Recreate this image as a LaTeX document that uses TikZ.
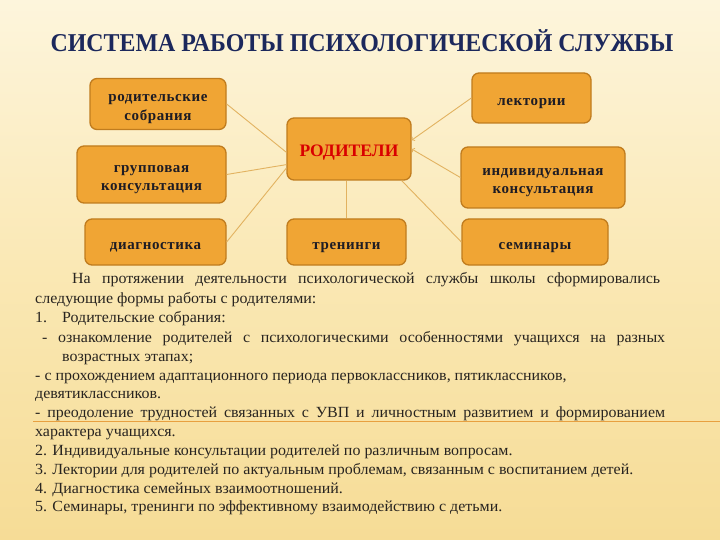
\documentclass[tikz,border=0pt]{standalone}
\usepackage{fontspec}
\setmainfont{Liberation Serif}
\newfontfamily\bodyfont[FakeStretch=1.03]{Liberation Serif}
\newfontfamily\boxfont[LetterSpace=4]{Liberation Serif}
\newfontfamily\titlefont[FakeStretch=0.93]{Liberation Serif}
\usetikzlibrary{shapes,arrows,positioning}
\definecolor{bgtop}{RGB}{253,245,220}
\definecolor{bgmid}{RGB}{250,232,180}
\definecolor{bgbot}{RGB}{246,220,150}
\definecolor{boxfill}{RGB}{240,165,52}
\definecolor{boxline}{RGB}{192,124,30}
\definecolor{boxtext}{RGB}{30,28,36}
\definecolor{titlecol}{RGB}{28,40,92}
\definecolor{linkcol}{RGB}{226,178,96}
\definecolor{bodytext}{RGB}{40,36,32}
\definecolor{rulecol}{RGB}{232,160,64}
% box labels sit a little below the middle of the box
\newcommand{\boxlabel}[1]{\raisebox{-3.5pt}[\height][\depth]{\begin{tabular}{@{}c@{}}#1\end{tabular}}}

\begin{document}
\begin{tikzpicture}[x=1pt, y=-1pt]
			\tikzstyle{Box}		= [rectangle, rounded corners=7pt, draw=boxline, fill=boxfill, line width=1.3pt, align=center, inner sep=0pt, font=\boxfont\bfseries\fontsize{15}{18.5}\selectfont, text=boxtext]
			\tikzstyle{Center}	= [font=\bfseries\fontsize{17.5}{20}\selectfont, text=red!85!black]
			\tikzstyle{Link}	= [linkcol, line width=0.9pt]
			\tikzstyle{Tip}		= [->, >=to]
			\tikzstyle{Line}	= [anchor=base west, inner sep=0pt, font=\bodyfont\fontsize{15.5}{18}\selectfont, text=bodytext]

			\useasboundingbox (0,0) rectangle (720,540);
			\fill [top color=bgtop, bottom color=bgbot, middle color=bgmid] (0,0) rectangle (720,540);

			\node (title) at (362,41) [font=\titlefont\bfseries\fontsize{25.7}{28}\selectfont, text=titlecol] {СИСТЕМА РАБОТЫ ПСИХОЛОГИЧЕСКОЙ СЛУЖБЫ};

			\node (rod) at (349,149) [Box][Center, minimum width=124pt, minimum height=62pt] {\boxlabel{РОДИТЕЛИ}};
			\node (sobr) at (158,104) [Box][minimum width=136pt, minimum height=51pt] {\boxlabel{родительские\\собрания}};
			\node (grup) at (151.5,174.5) [Box][minimum width=149pt, minimum height=57pt] {\boxlabel{групповая\\консультация}};
			\node (diag) at (155.5,242) [Box][minimum width=141pt, minimum height=46pt] {\boxlabel{диагностика}};
			\node (tren) at (346.5,242) [Box][minimum width=119pt, minimum height=46pt] {\boxlabel{тренинги}};
			\node (lekt) at (531.5,98) [Box][minimum width=119pt, minimum height=50pt] {\boxlabel{лектории}};
			\node (indiv) at (543,177.5) [Box][minimum width=164pt, minimum height=61pt] {\boxlabel{индивидуальная\\консультация}};
			\node (semin) at (535,242) [Box][minimum width=146pt, minimum height=46pt] {\boxlabel{семинары}};

			\draw [-] (sobr.east) to (rod.183) [Link];
			\draw [-] (grup.east) to (rod.194) [Link];
			\draw [-] (diag.east) to (rod.197) [Link];
			\draw [-] (tren.north) to (tren.north |- rod.south) [Link];
			\draw (lekt.west) to (rod.8) [Link][Tip];
			\draw (indiv.west) to (rod.0) [Link][Tip];
			\draw [-] (semin.west) to (rod.-31) [Link];

			\coordinate (ruleL) at (33,421);
			\coordinate (ruleR) at (720,421);
			\draw [rulecol, line width=0.8pt] (ruleL) -- (ruleR);

			\node (t1) at (72,283) [Line] {\makebox[588pt][s]{На протяжении деятельности психологической службы школы сформировались}};
			\node (t2) at (35,303) [Line] {следующие формы работы с родителями:};
			\node (t3) at (35,322) [Line] {1.};
			\node (t3b) at (62,322) [Line] {Родительские собрания:};
			\node (t4) at (42,342) [Line] {\makebox[623pt][s]{- ознакомление родителей с психологическими особенностями учащихся на разных}};
			\node (t5) at (62,361) [Line] {возрастных этапах;};
			\node (t6) at (35,380) [Line] {- с прохождением адаптационного периода первоклассников, пятиклассников,};
			\node (t7) at (35,398) [Line] {девятиклассников.};
			\node (t8) at (35,417) [Line] {\makebox[630pt][s]{- преодоление трудностей связанных с УВП и личностным развитием и формированием}};
			\node (t9) at (35,436) [Line] {характера учащихся.};
			\node (t10) at (35,455) [Line] {2. Индивидуальные консультации родителей по различным вопросам.};
			\node (t11) at (35,474) [Line] {3. Лектории для родителей по актуальным проблемам, связанным с воспитанием детей.};
			\node (t12) at (35,493) [Line] {4. Диагностика семейных взаимоотношений.};
			\node (t13) at (35,511) [Line] {5. Семинары, тренинги по эффективному взаимодействию с детьми.};
		\end{tikzpicture}
\end{document}
